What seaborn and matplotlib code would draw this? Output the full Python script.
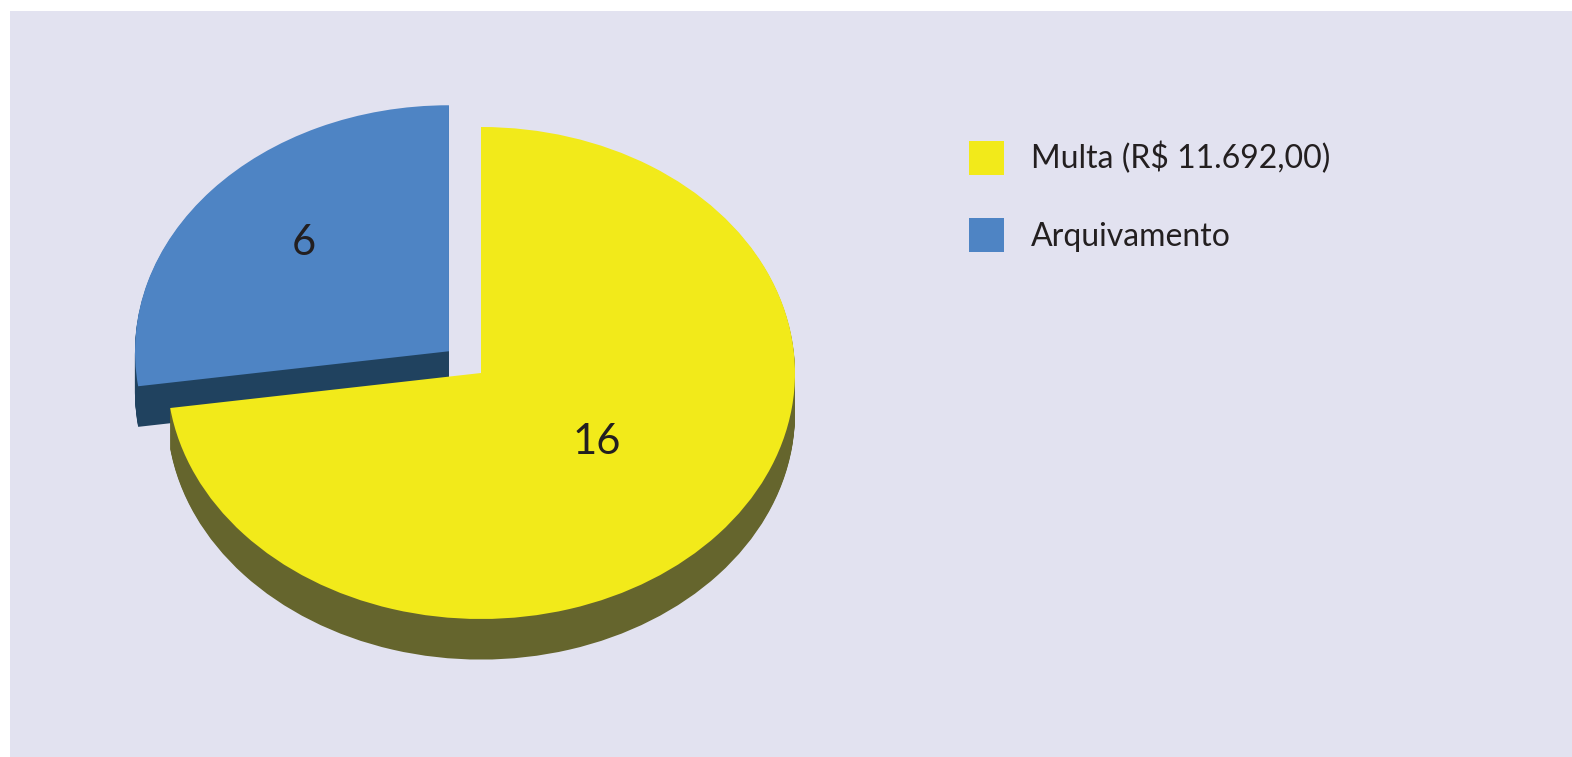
import matplotlib
matplotlib.use('Agg')
import matplotlib.pyplot as plt
from matplotlib.patches import Rectangle
import seaborn as sns
import numpy as np

sns.set_theme(style='white')
plt.rcParams['font.family'] = ['Lato', 'DejaVu Sans']

# ---- data ----
categories = ['Multa (R$ 11.692,00)', 'Arquivamento']
values = [16, 6]
slice_labels = ['16', '6']

# ---- styles ----
top_colors = ['#F2EA1A', '#4E84C4']
side_colors = ['#65652D', '#20425F']
explode = [0, 0.135]
label_r = [0.46, 0.64]
depth = 0.165
n_layers = 40
text_color = '#231F20'

W, H = 1572, 757
fig = plt.figure(figsize=(W / 100, H / 100), dpi=100)
fig.patch.set_facecolor('white')
fig.patches.append(Rectangle((10 / W, 0), 1, (H - 11) / H, transform=fig.transFigure,
                             facecolor='#E2E2F0', edgecolor='none', zorder=-10))

ax = fig.add_axes([0, 0, 1, 1])
ax.set_facecolor('none')

common = dict(startangle=90, counterclock=False, explode=explode,
              wedgeprops=dict(linewidth=0, antialiased=True))

# side walls (stacked extrusion)
for k in range(n_layers, 0, -1):
    ax.pie(values, colors=side_colors, center=(0, -depth * k / n_layers), **common)

# top surface
wedges, _ = ax.pie(values, colors=top_colors, center=(0, 0), **common)

# value labels
for w, lab, r in zip(wedges, slice_labels, label_r):
    mid = np.deg2rad((w.theta1 + w.theta2) / 2)
    cx, cy = w.center
    ax.text(cx + r * np.cos(mid) + 0.02, cy + r * np.sin(mid) + 0.02, lab,
            ha='center', va='center', fontsize=30, color=text_color)

# geometry of the axes: 1 unit = 314 px horizontally, 246 px vertically
cxp, cyp = 481, 373
rx, ry = 314, 246
ax.set_aspect('auto')
ax.set_xlim(-cxp / rx, (W - cxp) / rx)
ax.set_ylim(-(H - cyp) / ry, cyp / ry)
ax.set_axis_off()

leg = ax.legend(wedges, categories, loc='upper left',
                bbox_to_anchor=(969 / W, 1 - 141 / H), bbox_transform=fig.transFigure,
                frameon=False, fontsize=23, handlelength=1.1, handleheight=1.25,
                handletextpad=0.85, labelspacing=1.35, borderaxespad=0, borderpad=0)
for t in leg.get_texts():
    t.set_color(text_color)

fig.savefig('out.png', dpi=100, facecolor=fig.get_facecolor())
